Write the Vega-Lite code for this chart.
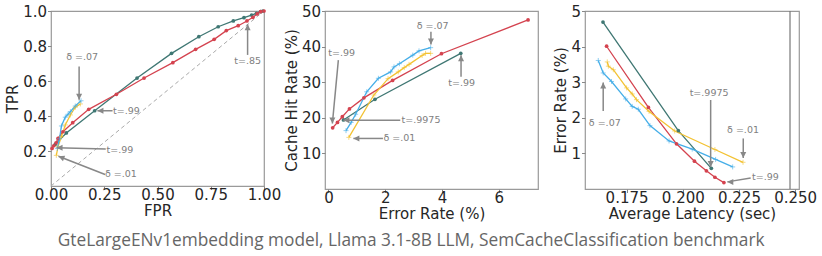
{
  "$schema": "https://vega.github.io/schema/vega-lite/v6.json",
  "background": "white",
  "padding": {"left": 5, "top": 3, "right": 0, "bottom": 0},
  "title": {"text": "GteLargeENv1embedding model, Llama 3.1-8B LLM, SemCacheClassification benchmark", "orient": "bottom", "anchor": "middle", "font": "Open Sans", "fontSize": 17.3, "fontWeight": "normal", "color": "#666666", "offset": 10},
  "spacing": 61,
  "bounds": "flush",
  "datasets": {
    "roc": [
      {"s": "teal", "x": 0.02, "y": 0.238}, {"s": "teal", "x": 0.072, "y": 0.303}, {"s": "teal", "x": 0.205, "y": 0.43}, {"s": "teal", "x": 0.404, "y": 0.617}, {"s": "teal", "x": 0.566, "y": 0.758}, {"s": "teal", "x": 0.694, "y": 0.853}, {"s": "teal", "x": 0.785, "y": 0.91}, {"s": "teal", "x": 0.856, "y": 0.943}, {"s": "teal", "x": 0.906, "y": 0.962}, {"s": "teal", "x": 0.942, "y": 0.977}, {"s": "teal", "x": 0.965, "y": 0.987}, {"s": "teal", "x": 0.984, "y": 0.996}, {"s": "teal", "x": 0.995, "y": 1.0},
      {"s": "red", "x": 0.005, "y": 0.215}, {"s": "red", "x": 0.013, "y": 0.23}, {"s": "red", "x": 0.024, "y": 0.247}, {"s": "red", "x": 0.033, "y": 0.272}, {"s": "red", "x": 0.056, "y": 0.31}, {"s": "red", "x": 0.102, "y": 0.362}, {"s": "red", "x": 0.177, "y": 0.438}, {"s": "red", "x": 0.307, "y": 0.524}, {"s": "red", "x": 0.437, "y": 0.617}, {"s": "red", "x": 0.572, "y": 0.705}, {"s": "red", "x": 0.679, "y": 0.781}, {"s": "red", "x": 0.766, "y": 0.838}, {"s": "red", "x": 0.823, "y": 0.888}, {"s": "red", "x": 0.879, "y": 0.916}, {"s": "red", "x": 0.92, "y": 0.943}, {"s": "red", "x": 0.948, "y": 0.964}, {"s": "red", "x": 0.968, "y": 0.983}, {"s": "red", "x": 0.984, "y": 0.996}, {"s": "red", "x": 1.0, "y": 1.0},
      {"s": "yellow", "x": 0.025, "y": 0.175}, {"s": "yellow", "x": 0.033, "y": 0.225}, {"s": "yellow", "x": 0.049, "y": 0.282}, {"s": "yellow", "x": 0.067, "y": 0.349}, {"s": "yellow", "x": 0.091, "y": 0.406}, {"s": "yellow", "x": 0.114, "y": 0.45}, {"s": "yellow", "x": 0.138, "y": 0.469},
      {"s": "blue", "x": 0.03, "y": 0.215}, {"s": "blue", "x": 0.04, "y": 0.27}, {"s": "blue", "x": 0.049, "y": 0.343}, {"s": "blue", "x": 0.067, "y": 0.393}, {"s": "blue", "x": 0.08, "y": 0.41}, {"s": "blue", "x": 0.091, "y": 0.425}, {"s": "blue", "x": 0.114, "y": 0.457}, {"s": "blue", "x": 0.141, "y": 0.487}
    ],
    "chr": [
      {"s": "teal", "x": 0.53, "y": 19.4}, {"s": "teal", "x": 1.64, "y": 25.2}, {"s": "teal", "x": 4.66, "y": 38.1},
      {"s": "red", "x": 0.15, "y": 17.2}, {"s": "red", "x": 0.32, "y": 18.7}, {"s": "red", "x": 0.49, "y": 20.3}, {"s": "red", "x": 0.74, "y": 22.5}, {"s": "red", "x": 1.25, "y": 25.6}, {"s": "red", "x": 2.26, "y": 30.5}, {"s": "red", "x": 3.98, "y": 38.0}, {"s": "red", "x": 7.03, "y": 47.5},
      {"s": "yellow", "x": 0.72, "y": 14.5}, {"s": "yellow", "x": 1.6, "y": 26.4}, {"s": "yellow", "x": 2.1, "y": 31.0}, {"s": "yellow", "x": 2.46, "y": 32.9}, {"s": "yellow", "x": 2.67, "y": 34.1}, {"s": "yellow", "x": 2.84, "y": 35.0}, {"s": "yellow", "x": 3.3, "y": 37.5}, {"s": "yellow", "x": 3.42, "y": 38.1}, {"s": "yellow", "x": 3.6, "y": 38.1},
      {"s": "blue", "x": 0.62, "y": 16.4}, {"s": "blue", "x": 0.8, "y": 18.7}, {"s": "blue", "x": 0.96, "y": 21.0}, {"s": "blue", "x": 1.35, "y": 27.3}, {"s": "blue", "x": 1.76, "y": 31.1}, {"s": "blue", "x": 2.19, "y": 32.9}, {"s": "blue", "x": 2.31, "y": 34.3}, {"s": "blue", "x": 2.5, "y": 35.2}, {"s": "blue", "x": 2.97, "y": 37.6}, {"s": "blue", "x": 3.19, "y": 38.8}, {"s": "blue", "x": 3.6, "y": 39.7}
    ],
    "lat": [
      {"s": "teal", "x": 0.1645, "y": 4.69}, {"s": "teal", "x": 0.198, "y": 1.64}, {"s": "teal", "x": 0.2127, "y": 0.58},
      {"s": "red", "x": 0.1661, "y": 4.01}, {"s": "red", "x": 0.1847, "y": 2.29}, {"s": "red", "x": 0.1972, "y": 1.27}, {"s": "red", "x": 0.2052, "y": 0.78}, {"s": "red", "x": 0.2105, "y": 0.51}, {"s": "red", "x": 0.2143, "y": 0.33}, {"s": "red", "x": 0.2183, "y": 0.18},
      {"s": "yellow", "x": 0.1664, "y": 3.57}, {"s": "yellow", "x": 0.1669, "y": 3.45}, {"s": "yellow", "x": 0.1691, "y": 3.35}, {"s": "yellow", "x": 0.175, "y": 2.84}, {"s": "yellow", "x": 0.1775, "y": 2.67}, {"s": "yellow", "x": 0.1794, "y": 2.51}, {"s": "yellow", "x": 0.185, "y": 2.18}, {"s": "yellow", "x": 0.1964, "y": 1.63}, {"s": "yellow", "x": 0.2143, "y": 1.11}, {"s": "yellow", "x": 0.2268, "y": 0.75},
      {"s": "blue", "x": 0.1624, "y": 3.61}, {"s": "blue", "x": 0.1646, "y": 3.26}, {"s": "blue", "x": 0.1683, "y": 3.02}, {"s": "blue", "x": 0.1746, "y": 2.53}, {"s": "blue", "x": 0.1775, "y": 2.32}, {"s": "blue", "x": 0.1802, "y": 2.24}, {"s": "blue", "x": 0.1854, "y": 1.78}, {"s": "blue", "x": 0.1939, "y": 1.35}, {"s": "blue", "x": 0.2042, "y": 1.12}, {"s": "blue", "x": 0.2146, "y": 0.83}, {"s": "blue", "x": 0.2222, "y": 0.62}
    ],
    "a1": [
      {"x": 0.132, "y": 0.683, "x2": 0.132, "y2": 0.493, "d": "down"},
      {"x": 0.923, "y": 0.749, "x2": 0.923, "y2": 0.924, "d": "up"},
      {"x": 0.289, "y": 0.43, "x2": 0.218, "y2": 0.43, "d": "left"},
      {"x": 0.257, "y": 0.212, "x2": 0.026, "y2": 0.218, "d": "left"},
      {"x": 0.254, "y": 0.066, "x2": 0.035, "y2": 0.17, "d": "upleft"}
    ],
    "t1": [
      {"x": 0.146, "y": 0.736, "t": "δ =.07"}, {"x": 0.923, "y": 0.715, "t": "t=.85"}, {"x": 0.354, "y": 0.43, "t": "t=.99"}, {"x": 0.324, "y": 0.208, "t": "t=.99"}, {"x": 0.328, "y": 0.071, "t": "δ =.01"}
    ],
    "a2": [
      {"x": 3.61, "y": 44.2, "x2": 3.61, "y2": 40.6, "d": "down"},
      {"x": 0.35, "y": 36.2, "x2": 0.14, "y2": 18.4, "d": "down"},
      {"x": 4.67, "y": 31.5, "x2": 4.67, "y2": 37.6, "d": "up"},
      {"x": 2.53, "y": 19.3, "x2": 0.53, "y2": 19.3, "d": "left"},
      {"x": 1.92, "y": 14.2, "x2": 0.88, "y2": 14.2, "d": "left"}
    ],
    "t2": [
      {"x": 3.67, "y": 45.9, "t": "δ =.07"}, {"x": 0.47, "y": 38.3, "t": "t=.99"}, {"x": 4.69, "y": 29.7, "t": "t=.99"}, {"x": 3.26, "y": 19.3, "t": "t=.9975"}, {"x": 2.5, "y": 14.2, "t": "δ =.01"}
    ],
    "a3": [
      {"x": 0.2124, "y": 2.5, "x2": 0.2124, "y2": 0.62, "d": "down"},
      {"x": 0.1646, "y": 2.19, "x2": 0.1646, "y2": 2.99, "d": "up"},
      {"x": 0.2269, "y": 1.42, "x2": 0.2269, "y2": 0.87, "d": "down"},
      {"x": 0.2302, "y": 0.31, "x2": 0.2198, "y2": 0.2, "d": "left"}
    ],
    "t3": [
      {"x": 0.2117, "y": 2.71, "t": "t=.9975"}, {"x": 0.1653, "y": 1.84, "t": "δ =.07"}, {"x": 0.2268, "y": 1.65, "t": "δ =.01"}, {"x": 0.2368, "y": 0.34, "t": "t=.99"}
    ],
    "vl": [{"x": 0.2477}]
  },
  "hconcat": [
    {
      "width": 213, "height": 175,
      "layer": [
        {"data": {"values": [{"x": 0, "y": 0}, {"x": 1, "y": 1}]}, "mark": {"type": "line", "strokeDash": [4, 3], "color": "#aaaaaa", "strokeWidth": 1},
         "encoding": {
           "x": {"field": "x", "type": "quantitative", "title": "FPR", "scale": {"domain": [0, 1], "nice": false}, "axis": {"values": [0, 0.25, 0.5, 0.75, 1], "format": ".2f"}},
           "y": {"field": "y", "type": "quantitative", "title": "TPR", "scale": {"domain": [0, 1], "nice": false}, "axis": {"values": [0.2, 0.4, 0.6, 0.8, 1.0], "format": ".1f"}}}},
        {"data": {"name": "roc"}, "mark": {"type": "line", "strokeWidth": 1.3},
         "encoding": {"x": {"field": "x", "type": "quantitative", "title": "FPR"}, "y": {"field": "y", "type": "quantitative", "title": "TPR"},
           "color": {"field": "s", "type": "nominal", "legend": null, "scale": {"domain": ["teal", "red", "yellow", "blue"], "range": ["#3f7773", "#d4434f", "#f3c232", "#45aee8"]}}}},
        {"data": {"name": "roc"}, "transform": [{"filter": "datum.s == 'teal' || datum.s == 'red'"}], "mark": {"type": "point", "filled": true, "size": 14, "opacity": 1},
         "encoding": {"x": {"field": "x", "type": "quantitative", "title": "FPR"}, "y": {"field": "y", "type": "quantitative", "title": "TPR"}, "color": {"field": "s", "type": "nominal", "legend": null}}},
        {"data": {"name": "roc"}, "transform": [{"filter": "datum.s == 'blue' || datum.s == 'yellow'"}], "mark": {"type": "point", "filled": false, "shape": "M-1,0H1M0,-1V1", "size": 25, "strokeWidth": 1, "opacity": 0.6},
         "encoding": {"x": {"field": "x", "type": "quantitative", "title": "FPR"}, "y": {"field": "y", "type": "quantitative", "title": "TPR"}, "color": {"field": "s", "type": "nominal", "legend": null}}},
        {"data": {"name": "a1"}, "mark": {"type": "rule", "color": "#888888", "strokeWidth": 1.5},
         "encoding": {"x": {"field": "x", "type": "quantitative", "title": "FPR"}, "y": {"field": "y", "type": "quantitative", "title": "TPR"}, "x2": {"field": "x2"}, "y2": {"field": "y2"}}},
        {"data": {"name": "a1"}, "mark": {"type": "point", "filled": true, "size": 100, "color": "#888888", "opacity": 1},
         "encoding": {"x": {"field": "x2", "type": "quantitative", "title": "FPR"}, "y": {"field": "y2", "type": "quantitative", "title": "TPR"},
           "shape": {"field": "d", "type": "nominal", "legend": null, "scale": {"domain": ["down", "up", "left", "upleft"], "range": ["M0,0L-0.6,-1.2L0.6,-1.2Z", "M0,0L-0.6,1.2L0.6,1.2Z", "M0,0L1.2,-0.6L1.2,0.6Z", "M0,0L1.34,-0.12L0.9,1.0Z"]}}}},
        {"data": {"name": "t1"}, "mark": {"type": "text", "align": "center", "baseline": "middle"},
         "encoding": {"x": {"field": "x", "type": "quantitative", "title": "FPR"}, "y": {"field": "y", "type": "quantitative", "title": "TPR"}, "text": {"field": "t"}}}
      ]
    },
    {
      "spacing": 47,
      "bounds": "flush",
      "hconcat": [
        {
          "width": 213, "height": 178,
          "layer": [
            {"data": {"name": "chr"}, "mark": {"type": "line", "strokeWidth": 1.3},
             "encoding": {
               "x": {"field": "x", "type": "quantitative", "title": "Error Rate (%)", "scale": {"domain": [-0.12, 7.38], "nice": false}, "axis": {"values": [0, 2, 4, 6]}},
               "y": {"field": "y", "type": "quantitative", "title": "Cache Hit Rate (%)", "scale": {"domain": [0, 50], "nice": false}, "axis": {"values": [10, 20, 30, 40, 50]}},
               "color": {"field": "s", "type": "nominal", "legend": null, "scale": {"domain": ["teal", "red", "yellow", "blue"], "range": ["#3f7773", "#d4434f", "#f3c232", "#45aee8"]}}}},
            {"data": {"name": "chr"}, "transform": [{"filter": "datum.s == 'teal' || datum.s == 'red'"}], "mark": {"type": "point", "filled": true, "size": 14, "opacity": 1},
             "encoding": {"x": {"field": "x", "type": "quantitative", "title": "Error Rate (%)"}, "y": {"field": "y", "type": "quantitative", "title": "Cache Hit Rate (%)"}, "color": {"field": "s", "type": "nominal", "legend": null}}},
            {"data": {"name": "chr"}, "transform": [{"filter": "datum.s == 'blue' || datum.s == 'yellow'"}], "mark": {"type": "point", "filled": false, "shape": "M-1,0H1M0,-1V1", "size": 25, "strokeWidth": 1, "opacity": 0.6},
             "encoding": {"x": {"field": "x", "type": "quantitative", "title": "Error Rate (%)"}, "y": {"field": "y", "type": "quantitative", "title": "Cache Hit Rate (%)"}, "color": {"field": "s", "type": "nominal", "legend": null}}},
            {"data": {"name": "a2"}, "mark": {"type": "rule", "color": "#888888", "strokeWidth": 1.5},
             "encoding": {"x": {"field": "x", "type": "quantitative", "title": "Error Rate (%)"}, "y": {"field": "y", "type": "quantitative", "title": "Cache Hit Rate (%)"}, "x2": {"field": "x2"}, "y2": {"field": "y2"}}},
            {"data": {"name": "a2"}, "mark": {"type": "point", "filled": true, "size": 100, "color": "#888888", "opacity": 1},
             "encoding": {"x": {"field": "x2", "type": "quantitative", "title": "Error Rate (%)"}, "y": {"field": "y2", "type": "quantitative", "title": "Cache Hit Rate (%)"},
               "shape": {"field": "d", "type": "nominal", "legend": null, "scale": {"domain": ["down", "up", "left", "upleft"], "range": ["M0,0L-0.6,-1.2L0.6,-1.2Z", "M0,0L-0.6,1.2L0.6,1.2Z", "M0,0L1.2,-0.6L1.2,0.6Z", "M0,0L1.34,-0.12L0.9,1.0Z"]}}}},
            {"data": {"name": "t2"}, "mark": {"type": "text", "align": "center", "baseline": "middle"},
             "encoding": {"x": {"field": "x", "type": "quantitative", "title": "Error Rate (%)"}, "y": {"field": "y", "type": "quantitative", "title": "Cache Hit Rate (%)"}, "text": {"field": "t"}}}
          ]
        },
        {
          "width": 214, "height": 178,
          "layer": [
            {"data": {"name": "vl"}, "mark": {"type": "rule", "color": "#777777", "strokeWidth": 1.2},
             "encoding": {"x": {"field": "x", "type": "quantitative", "title": "Average Latency (sec)", "scale": {"domain": [0.1565, 0.2517], "nice": false, "zero": false}, "axis": {"values": [0.175, 0.2, 0.225, 0.25], "format": ".3f"}}}},
            {"data": {"name": "lat"}, "mark": {"type": "line", "strokeWidth": 1.3},
             "encoding": {
               "x": {"field": "x", "type": "quantitative", "title": "Average Latency (sec)"},
               "y": {"field": "y", "type": "quantitative", "title": "Error Rate (%)", "scale": {"domain": [0, 5], "nice": false}, "axis": {"values": [1, 2, 3, 4, 5]}},
               "color": {"field": "s", "type": "nominal", "legend": null, "scale": {"domain": ["teal", "red", "yellow", "blue"], "range": ["#3f7773", "#d4434f", "#f3c232", "#45aee8"]}}}},
            {"data": {"name": "lat"}, "transform": [{"filter": "datum.s == 'teal' || datum.s == 'red'"}], "mark": {"type": "point", "filled": true, "size": 14, "opacity": 1},
             "encoding": {"x": {"field": "x", "type": "quantitative", "title": "Average Latency (sec)"}, "y": {"field": "y", "type": "quantitative", "title": "Error Rate (%)"}, "color": {"field": "s", "type": "nominal", "legend": null}}},
            {"data": {"name": "lat"}, "transform": [{"filter": "datum.s == 'blue' || datum.s == 'yellow'"}], "mark": {"type": "point", "filled": false, "shape": "M-1,0H1M0,-1V1", "size": 25, "strokeWidth": 1, "opacity": 0.6},
             "encoding": {"x": {"field": "x", "type": "quantitative", "title": "Average Latency (sec)"}, "y": {"field": "y", "type": "quantitative", "title": "Error Rate (%)"}, "color": {"field": "s", "type": "nominal", "legend": null}}},
            {"data": {"name": "a3"}, "mark": {"type": "rule", "color": "#888888", "strokeWidth": 1.5},
             "encoding": {"x": {"field": "x", "type": "quantitative", "title": "Average Latency (sec)"}, "y": {"field": "y", "type": "quantitative", "title": "Error Rate (%)"}, "x2": {"field": "x2"}, "y2": {"field": "y2"}}},
            {"data": {"name": "a3"}, "mark": {"type": "point", "filled": true, "size": 100, "color": "#888888", "opacity": 1},
             "encoding": {"x": {"field": "x2", "type": "quantitative", "title": "Average Latency (sec)"}, "y": {"field": "y2", "type": "quantitative", "title": "Error Rate (%)"},
               "shape": {"field": "d", "type": "nominal", "legend": null, "scale": {"domain": ["down", "up", "left", "upleft"], "range": ["M0,0L-0.6,-1.2L0.6,-1.2Z", "M0,0L-0.6,1.2L0.6,1.2Z", "M0,0L1.2,-0.6L1.2,0.6Z", "M0,0L1.34,-0.12L0.9,1.0Z"]}}}},
            {"data": {"name": "t3"}, "mark": {"type": "text", "align": "center", "baseline": "middle"},
             "encoding": {"x": {"field": "x", "type": "quantitative", "title": "Average Latency (sec)"}, "y": {"field": "y", "type": "quantitative", "title": "Error Rate (%)"}, "text": {"field": "t"}}}
          ]
        }
      ]
    }
  ],
  "config": {
    "view": {"stroke": "#9a9a9a", "strokeWidth": 1.2},
    "axis": {"grid": false, "domain": false, "ticks": true, "tickSize": 3.5, "tickColor": "#888888", "labelFont": "DejaVu Sans", "labelFontSize": 15, "labelColor": "#262626", "titleFont": "DejaVu Sans", "titleFontSize": 15, "titleFontWeight": "normal", "titleColor": "#262626", "labelPadding": 1, "titlePadding": 2, "labelFlush": false, "labelOverlap": false},
    "axisX": {"labelPadding": -2, "titlePadding": 1},
    "text": {"font": "DejaVu Sans", "fontSize": 9.5, "color": "#808080"}
  }
}
